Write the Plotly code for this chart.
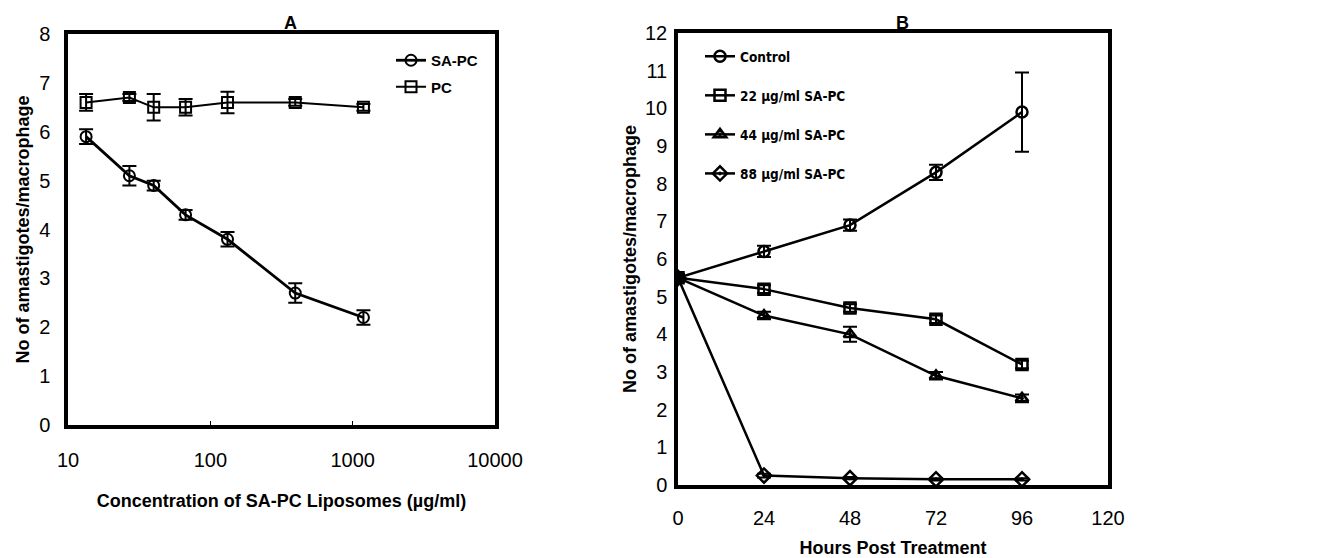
import plotly.graph_objects as go

# ---- Panel A data ----
conc = [13.4, 27, 40, 67, 132, 395, 1190]
sapc = [5.9, 5.1, 4.9, 4.3, 3.8, 2.7, 2.2]
sapc_err = [0.15, 0.2, 0.1, 0.1, 0.15, 0.2, 0.15]
pc = [6.6, 6.7, 6.5, 6.5, 6.6, 6.6, 6.5]
pc_err = [0.17, 0.07, 0.27, 0.17, 0.22, 0.07, 0.07]
a_xticks = [10, 100, 1000, 10000]
a_xticklabels = ["10", "100", "1000", "10000"]

# ---- Panel B data ----
hours = [0, 24, 48, 72, 96]
control = [5.5, 6.2, 6.9, 8.3, 9.9]
control_err = [0.1, 0.15, 0.15, 0.2, 1.05]
d22 = [5.5, 5.2, 4.7, 4.4, 3.2]
d22_err = [0.1, 0.1, 0.1, 0.1, 0.1]
d44 = [5.5, 4.5, 4.0, 2.9, 2.3]
d44_err = [0.1, 0.1, 0.2, 0.1, 0.1]
d88 = [5.5, 0.25, 0.18, 0.15, 0.15]
d88_err = [0.05, 0.05, 0.03, 0.03, 0.03]

W, H = 1326, 558
BLACK = "black"
TICKFONT = dict(family="Liberation Sans", size=20, color=BLACK)
TITLEFONT = dict(family="Liberation Sans", size=18, color=BLACK, weight="bold")


def err(vals):
    return dict(type="data", array=vals, visible=True, color=BLACK, thickness=2, width=7)


fig = go.Figure()

fig.add_trace(go.Scatter(x=conc, y=sapc, error_y=err(sapc_err), name="SA-PC",
                         mode="lines+markers", line=dict(color=BLACK, width=2.8),
                         marker=dict(symbol="circle-open", size=11, color=BLACK, line=dict(width=2)),
                         xaxis="x", yaxis="y", legend="legend", legendgroup="a1"))
fig.add_trace(go.Scatter(x=conc, y=pc, error_y=err(pc_err), name="PC",
                         mode="lines+markers", line=dict(color=BLACK, width=2),
                         marker=dict(symbol="square-open", size=11, color=BLACK, line=dict(width=2)),
                         xaxis="x", yaxis="y", legend="legend", legendgroup="a2"))

series_b = [
    ("Control", control, control_err, "circle-open"),
    ("22 µg/ml SA-PC", d22, d22_err, "square-open"),
    ("44 µg/ml SA-PC", d44, d44_err, "triangle-up-open-dot"),
    ("88 µg/ml SA-PC", d88, d88_err, "diamond-open-dot"),
]
for i, (nm, vals, ev, sym) in enumerate(series_b):
    fig.add_trace(go.Scatter(x=hours, y=vals, error_y=err(ev), name=nm,
                             mode="lines+markers", line=dict(color=BLACK, width=2.5),
                             marker=dict(symbol=sym, size=11, color=BLACK, line=dict(width=2.5)),
                             xaxis="x2", yaxis="y2", legend="legend2", legendgroup=f"b{i}"))

A_L, A_R, A_T, A_B = 68, 495, 34, 425
B_L, B_R, B_T, B_B = 678, 1108, 33, 485

axis_common = dict(showgrid=False, zeroline=False, showline=True, linecolor=BLACK,
                   linewidth=3.5, mirror=True, tickfont=TICKFONT, color=BLACK,
                   automargin=False)

fig.update_layout(
    width=W, height=H, margin=dict(l=0, r=0, t=0, b=0, autoexpand=False),
    paper_bgcolor="white", plot_bgcolor="white",
    xaxis=dict(domain=[A_L / W, A_R / W], anchor="y", type="log", range=[1, 4],
               tickvals=a_xticks, ticktext=a_xticklabels, ticks="inside", ticklen=4,
               ticklabelstandoff=14,
               title=dict(text="Concentration of SA-PC Liposomes (µg/ml)", font=TITLEFONT, standoff=26),
               **axis_common),
    yaxis=dict(domain=[1 - A_B / H, 1 - A_T / H], anchor="x", range=[0, 8], dtick=1,
               ticks="", ticklabelstandoff=10,
               title=dict(text="No of amastigotes/macrophage", font=TITLEFONT, standoff=6),
               **axis_common),
    xaxis2=dict(domain=[B_L / W, B_R / W], anchor="y2", range=[0, 120], dtick=24,
                ticks="", ticklabelstandoff=12,
                title=dict(text="Hours Post Treatment", font=TITLEFONT, standoff=18),
                **axis_common),
    yaxis2=dict(domain=[1 - B_B / H, 1 - B_T / H], anchor="x2", range=[0, 12], dtick=1,
                ticks="", ticklabelstandoff=3,
                title=dict(text="No of amastigotes/macrophage", font=TITLEFONT, standoff=5),
                **axis_common),
    legend=dict(x=391 / W, y=1 - 44 / H, xanchor="left", yanchor="top",
                font=dict(family="Liberation Sans", size=15, color=BLACK, weight="bold"),
                bgcolor="rgba(0,0,0,0)", traceorder="grouped", tracegroupgap=4),
    legend2=dict(x=700 / W, y=1 - 41 / H, xanchor="left", yanchor="top",
                 font=dict(family="DejaVu Sans Condensed, Liberation Sans", size=13.5, color=BLACK, weight="bold"),
                 bgcolor="rgba(0,0,0,0)", traceorder="grouped", tracegroupgap=18.5),
    annotations=[
        dict(text="A", x=290 / W, y=1 - 23 / H, xref="paper", yref="paper", showarrow=False,
             xanchor="center", yanchor="middle",
             font=dict(family="Liberation Sans", size=18, color=BLACK, weight="bold")),
        dict(text="B", x=902 / W, y=1 - 23 / H, xref="paper", yref="paper", showarrow=False,
             xanchor="center", yanchor="middle",
             font=dict(family="Liberation Sans", size=18, color=BLACK, weight="bold")),
    ],
)

fig.write_html("out.html", config={"displayModeBar": False},
               post_script="document.body.style.margin='0';")
